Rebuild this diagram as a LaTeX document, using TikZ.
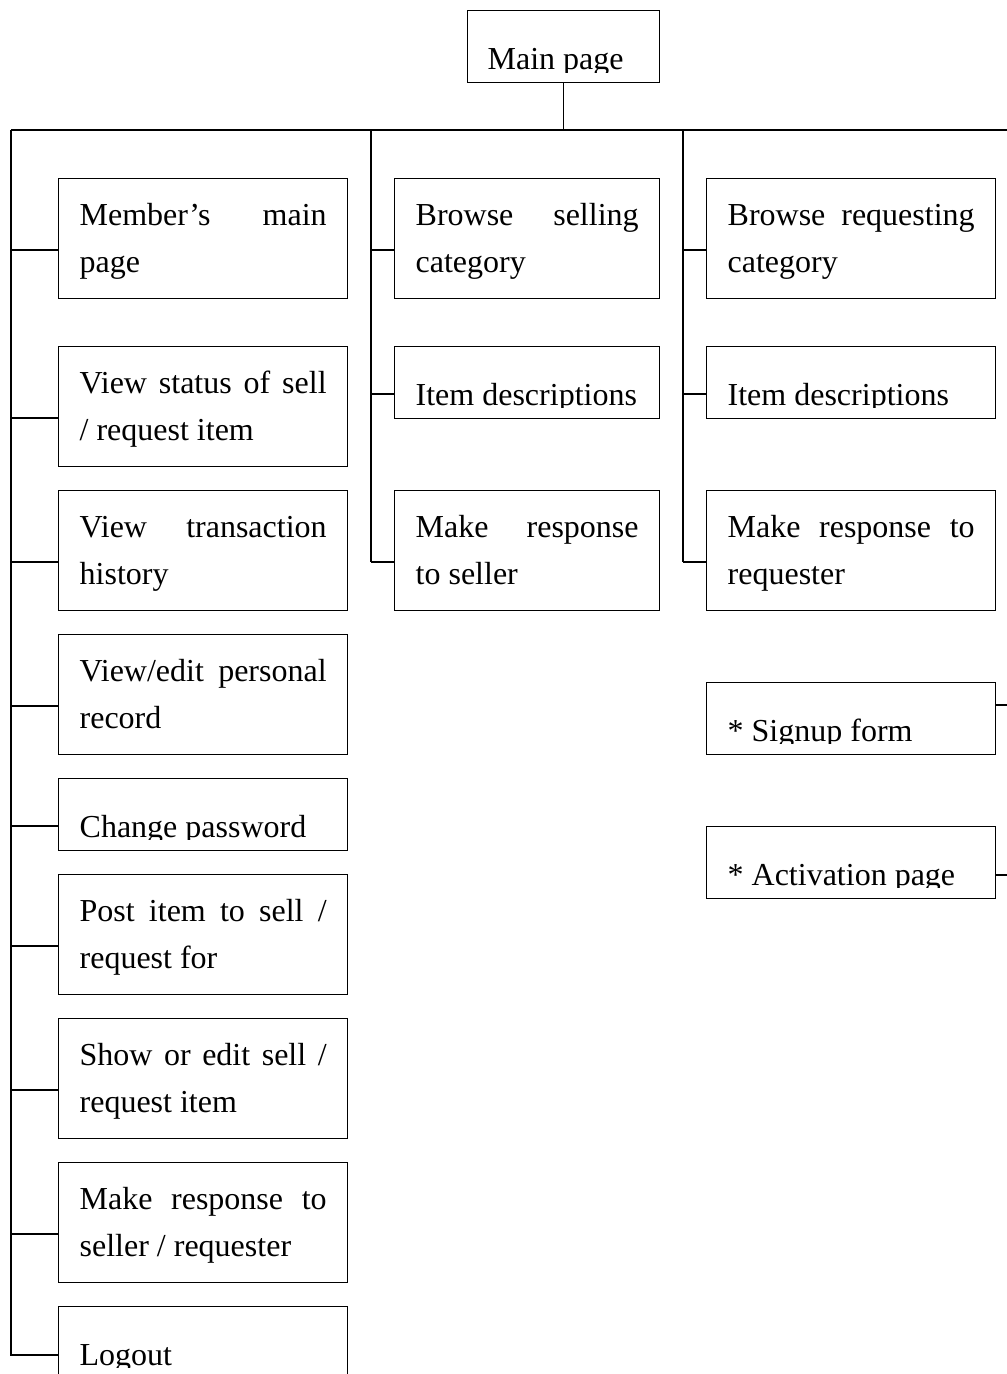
\documentclass[tikz,border=0pt]{standalone}
\usepackage{fontspec}
\setmainfont{Liberation Serif}
\usetikzlibrary{calc}
% junction on a box's left edge, joined to a vertical spine
\newcommand\tie[3]{%
  \coordinate (#2-j) at ($(#2.north west)+(0,#3)$);
  \draw (#1 |- #2-j) -- (#2-j);}
% empty framed box: name, x, y, width, height
\newcommand\onebox[5]{%
  \node[box, minimum width=#4, minimum height=#5] (#1) at (#2,#3) {};}
\begin{document}
\begin{tikzpicture}[x=1pt,y=-1pt,line width=1.35pt,
  box/.style={draw,rectangle,anchor=north west,inner sep=0pt},
  txt/.style={anchor=base west,inner sep=0pt,text width=#1,align=justify,
    font=\fontsize{32}{47.5}\selectfont}]
\useasboundingbox (0,0) rectangle (1007,1374);
\clip (0,0) rectangle (1007,1374);

% ---- root
\onebox{main}{467}{10}{192}{72}
\begin{scope}
  \clip (main.north west) rectangle ($(main.north east)+(0,62)$);
  \node[txt=170] (main-t) at ($(main.north west)+(20,59)$) {Main page};
\end{scope}

% ---- left column
\onebox{mem}{58}{178}{289}{120}
\node[txt=247] (mem-t) at ($(mem.north west)+(21,47)$) {Member’s main\linebreak page};
\onebox{vst}{58}{346}{289}{120}
\node[txt=247] (vst-t) at ($(vst.north west)+(21,47)$) {View status of sell\linebreak / request item};
\onebox{vth}{58}{490}{289}{120}
\node[txt=247] (vth-t) at ($(vth.north west)+(21,47)$) {View transaction\linebreak history};
\onebox{vep}{58}{634}{289}{120}
\node[txt=247] (vep-t) at ($(vep.north west)+(21,47)$) {View/edit personal\linebreak record};
\onebox{chg}{58}{778}{289}{72}
\begin{scope}
  \clip (chg.north west) rectangle ($(chg.north east)+(0,61)$);
  \node[txt=247] (chg-t) at ($(chg.north west)+(21,59)$) {Change password};
\end{scope}
\onebox{post}{58}{874}{289}{120}
\node[txt=247] (post-t) at ($(post.north west)+(21,47)$) {Post item to sell /\linebreak request for};
\onebox{shw}{58}{1018}{289}{120}
\node[txt=247] (shw-t) at ($(shw.north west)+(21,47)$) {Show or edit sell /\linebreak request item};
\onebox{mrs}{58}{1162}{289}{120}
\node[txt=247] (mrs-t) at ($(mrs.north west)+(21,47)$) {Make response to\linebreak seller / requester};
\onebox{lgo}{58}{1306}{289}{100}
\begin{scope}
  \clip (lgo.north west) rectangle ($(lgo.north east)+(0,61)$);
  \node[txt=247] (lgo-t) at ($(lgo.north west)+(21,59)$) {Logout};
\end{scope}

% ---- middle column
\onebox{bsel}{394}{178}{265}{120}
\node[txt=223] (bsel-t) at ($(bsel.north west)+(21,47)$) {Browse selling\linebreak category};
\onebox{ids}{394}{346}{265}{72}
\begin{scope}
  \clip (ids.north west) rectangle ($(ids.north east)+(0,61)$);
  \node[txt=223] (ids-t) at ($(ids.north west)+(21,59)$) {Item descriptions};
\end{scope}
\onebox{mrsel}{394}{490}{265}{120}
\node[txt=223] (mrsel-t) at ($(mrsel.north west)+(21,47)$) {Make response\linebreak to seller};

% ---- right column
\onebox{breq}{706}{178}{289}{120}
\node[txt=247] (breq-t) at ($(breq.north west)+(21,47)$) {Browse requesting\linebreak category};
\onebox{idr}{706}{346}{289}{72}
\begin{scope}
  \clip (idr.north west) rectangle ($(idr.north east)+(0,61)$);
  \node[txt=247] (idr-t) at ($(idr.north west)+(21,59)$) {Item descriptions};
\end{scope}
\onebox{mrr}{706}{490}{289}{120}
\node[txt=247] (mrr-t) at ($(mrr.north west)+(21,47)$) {Make response to\linebreak requester};
\onebox{sgn}{706}{682}{289}{72}
\begin{scope}
  \clip (sgn.north west) rectangle ($(sgn.north east)+(0,61)$);
  \node[txt=247] (sgn-t) at ($(sgn.north west)+(21,59)$) {* Signup form};
\end{scope}
\onebox{act}{706}{826}{289}{72}
\begin{scope}
  \clip (act.north west) rectangle ($(act.north east)+(0,61)$);
  \node[txt=247] (act-t) at ($(act.north west)+(21,59)$) {* Activation page};
\end{scope}

% ---- connectors
\coordinate (lb) at (11,130);
\coordinate (mb) at (371,130);
\coordinate (rb) at (683,130);
\coordinate (re) at (1012,130);
\draw (main.south) -- (main.south |- lb);
\draw (lb) -- (re);

\tie{lb}{mem}{72}
\tie{lb}{vst}{72}
\tie{lb}{vth}{72}
\tie{lb}{vep}{72}
\tie{lb}{chg}{48}
\tie{lb}{post}{72}
\tie{lb}{shw}{72}
\tie{lb}{mrs}{72}
\coordinate (lgo-j) at ($(lgo.north west)+(0,49)$);
\draw (lb) -- (lb |- lgo-j) -- (lgo-j);

\tie{mb}{bsel}{72}
\tie{mb}{ids}{48}
\tie{mb}{mrsel}{72}
\draw (mb) -- (mb |- mrsel-j);

\tie{rb}{breq}{72}
\tie{rb}{idr}{48}
\tie{rb}{mrr}{72}
\draw (rb) -- (rb |- mrr-j);

\coordinate (sgn-j) at ($(sgn.north east)+(0,23)$);
\draw (sgn-j) -- (sgn-j -| re);
\coordinate (act-j) at ($(act.north east)+(0,49)$);
\draw (act-j) -- (act-j -| re);
\end{tikzpicture}
\end{document}
